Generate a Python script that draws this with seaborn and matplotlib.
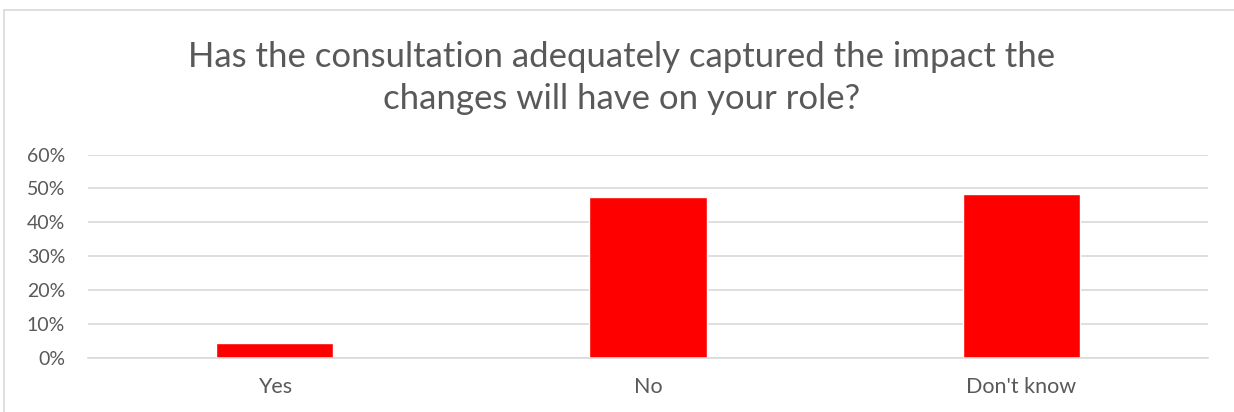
import matplotlib.pyplot as plt
import seaborn as sns
import pandas as pd
from matplotlib.lines import Line2D
from matplotlib.ticker import PercentFormatter

categories = ['Yes', 'No', "Don't know"]
shares = [0.043, 0.475, 0.483]
y_ticks = [0.0, 0.1, 0.2, 0.3, 0.4, 0.5, 0.6]

sns.set_style('white')
plt.rcParams['font.family'] = ['Lato', 'DejaVu Sans']

df = pd.DataFrame({'answer': categories, 'share': shares})

fig = plt.figure(figsize=(12.34, 4.12), dpi=100)
ax = fig.add_axes([88 / 1234, 1 - 358 / 412, 1120 / 1234, (358 - 154.5) / 412])

sns.barplot(data=df, x='answer', y='share', color='#ff0000', saturation=1,
            width=0.314, ax=ax)

ax.set_ylim(0, 0.6)
ax.set_yticks(y_ticks)
ax.yaxis.set_major_formatter(PercentFormatter(1.0, decimals=0))
ax.set_xlim(-0.5, 2.5)
ax.grid(axis='y', color='#d9d9d9', linewidth=1.2)
ax.set_axisbelow(True)
for side in ['top', 'right', 'left']:
    ax.spines[side].set_visible(False)
ax.spines['bottom'].set_color('#d9d9d9')
ax.spines['bottom'].set_linewidth(1.2)
ax.tick_params(axis='both', length=0, labelcolor='#595959')
ax.tick_params(axis='x', labelsize=15.5, pad=14)
ax.tick_params(axis='y', labelsize=14, pad=16.5)
ax.set_xlabel('')
ax.set_ylabel('')

fig.text(0.504, 1 - 78 / 412,
         'Has the consultation adequately captured the impact the\nchanges will have on your role?',
         ha='center', va='center', fontsize=25, color='#595959',
         linespacing=1.4)

# chart border
fig.add_artist(Line2D([4 / 1234, 4 / 1234], [0, 1 - 10 / 412], color='#d9d9d9', lw=1.2))
fig.add_artist(Line2D([4 / 1234, 1], [1 - 10 / 412, 1 - 10 / 412], color='#d9d9d9', lw=1.2))

fig.savefig('out.png', dpi=100)
